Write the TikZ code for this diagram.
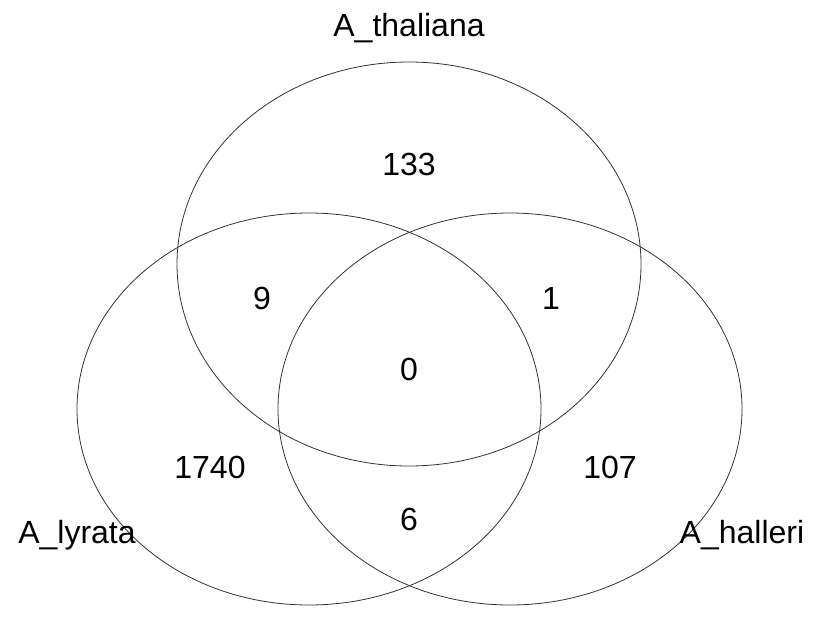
\documentclass[tikz,border=0pt]{standalone}
\usepackage{fontspec}
\setmainfont{Liberation Sans}
\usepackage{tikz}
\usetikzlibrary{shapes.geometric}
\definecolor{setline}{HTML}{333333}

\begin{document}
\begin{tikzpicture}[
    x=1pt, y=-1pt,
    setellipse/.style={ellipse, draw=setline, line width=0.8pt, inner sep=0pt,
        minimum width=464pt, minimum height=#1},
    count/.style={anchor=base, inner sep=0pt, font=\fontsize{32}{38}\selectfont},
    setname/.style={count},
]
\useasboundingbox (0,0) rectangle (814,619);

% the three sets
\node[setellipse=404pt] (thal) at (409,264) {};
\node[setellipse=392pt] (lyr) at (309,409) {};
\node[setellipse=392pt] (hal) at (510,409) {};

% set names
\node[setname] (thalname) at (409,36) {A\_thaliana};
\node[setname] (lyrname) at (77,543) {A\_lyrata};
\node[setname] (halname) at (742,543) {A\_halleri};

% region counts
\node[count] (nthal) at (409,175) {133};
\node[count] (nthallyr) at (262,309) {9};
\node[count] (nthalhal) at (551,309) {1};
\node[count] (nall) at (409,380) {0};
\node[count] (nlyr) at (210,478) {1740};
\node[count] (nhal) at (610,478) {107};
\node[count] (nlyrhal) at (409,530) {6};

\end{tikzpicture}
\end{document}
